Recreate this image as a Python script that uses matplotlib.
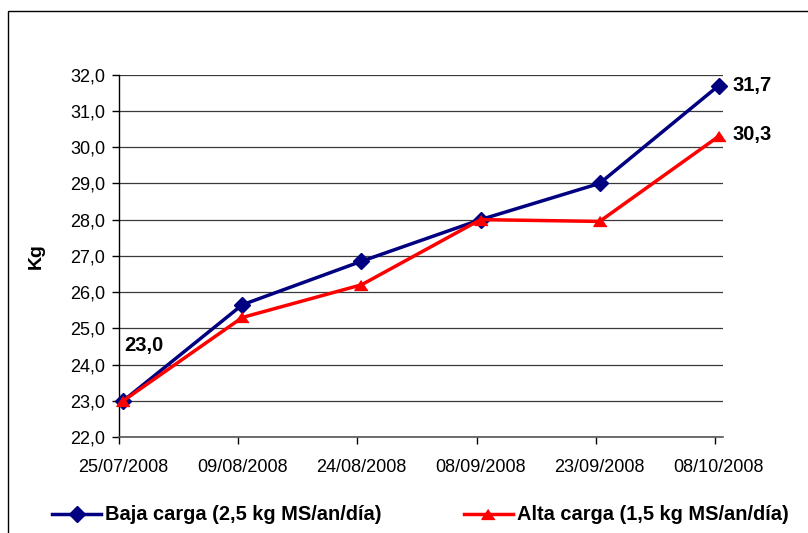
import matplotlib
matplotlib.use("Agg")
import matplotlib.pyplot as plt
import matplotlib.patches as mpatches
from matplotlib.ticker import FuncFormatter, FixedLocator
import pandas as pd
import numpy as np

# ---- data ----
dates = ["25/07/2008", "09/08/2008", "24/08/2008", "08/09/2008", "23/09/2008", "08/10/2008"]
baja = [23.0, 25.65, 26.85, 28.0, 29.0, 31.7]
alta = [23.0, 25.3, 26.2, 28.0, 27.95, 30.3]
tick_labels = ["25/07/2008", "09/08/2008", "24/08/2008", "08/09/2008", "23/09/2008", "08/10/2008"]
label_baja = "Baja carga (2,5 kg MS/an/día)"
label_alta = "Alta carga (1,5 kg MS/an/día)"

plt.rcParams['font.family'] = ['Liberation Sans', 'DejaVu Sans']

d = pd.to_datetime(dates, format="%d/%m/%Y")
t0 = d[0]
x = np.array([(v - t0).days for v in d], dtype=float)
td = pd.to_datetime(tick_labels, format="%d/%m/%Y")
xt = np.array([(v - t0).days for v in td], dtype=float)

fig = plt.figure(figsize=(8.08, 5.33), dpi=100)
ax = fig.add_axes([119.3 / 808, 1 - 437 / 533, 603.4 / 808, (437 - 74.7) / 533])

# outer frame
fig.patches.append(mpatches.Rectangle((8.3 / 808, -0.2), 1.2, 1.2 - 11 / 533,
                                      transform=fig.transFigure, fill=False,
                                      edgecolor='black', linewidth=1.0, zorder=0))

ax.plot(x, baja, color='#000080', lw=2.5, marker='D', ms=8, mfc='#000080', mec='#000080',
        label=label_baja, zorder=3, clip_on=False)
tri = [(0, 0.75), (-1, -0.75), (1, -0.75)]
ax.plot(x, alta, color='#FF0000', lw=2.5, marker=tri, ms=9.5, mfc='#FF0000', mec='#FF0000',
        label=label_alta, zorder=4, clip_on=False)

ax.set_ylim(22, 32)
ax.set_xlim(x[0] - 0.5, xt[-1] + 0.5)
ax.set_yticks(np.arange(22, 32.01, 1.0))
ax.yaxis.set_major_formatter(FuncFormatter(lambda v, p: f"{v:.1f}".replace('.', ',')))

# labels centred on dates, tick marks at day boundaries
ax.set_xticks(xt)
ax.set_xticklabels(tick_labels)
ax.xaxis.set_minor_locator(FixedLocator(xt - 0.5))
ax.tick_params(axis='x', which='major', length=0, pad=16, labelsize=13)
ax.tick_params(axis='x', which='minor', length=5, width=1, color='black', direction='out')
ax.tick_params(axis='y', length=5, width=1, pad=5, labelsize=13, color='black')

ax.grid(axis='y', color='#3a3a3a', lw=0.9)
ax.set_axisbelow(True)
for s in ['top', 'right']:
    ax.spines[s].set_visible(False)
ax.spines['left'].set_color('black')
ax.spines['left'].set_linewidth(1)
ax.spines['bottom'].set_color('#555555')
ax.spines['bottom'].set_linewidth(1.2)

ax.set_ylabel("Kg", fontsize=14, fontweight='bold')
ax.yaxis.set_label_coords((45 - 119.3) / 603.4, 0.5)

fmt = lambda v: f"{v:.1f}".replace('.', ',')
ax.annotate(fmt(baja[0]), (x[0], baja[0]), xytext=(1, 55), textcoords='offset pixels',
            ha='left', va='center', fontsize=14.5, fontweight='bold')
ax.annotate(fmt(baja[-1]), (x[-1], baja[-1]), xytext=(14, 0), textcoords='offset pixels',
            ha='left', va='center', fontsize=14.5, fontweight='bold', annotation_clip=False)
ax.annotate(fmt(alta[-1]), (x[-1], alta[-1]), xytext=(14, 2), textcoords='offset pixels',
            ha='left', va='center', fontsize=14.5, fontweight='bold', annotation_clip=False)

fig.legend(loc='center left', bbox_to_anchor=(52 / 808, 1 - 515 / 533), ncol=2,
           frameon=False, prop={'weight': 'bold', 'size': 14.4},
           handlelength=2.45, handletextpad=0.22, columnspacing=4.1,
           borderpad=0, borderaxespad=0)

fig.savefig("out.png", dpi=100)
